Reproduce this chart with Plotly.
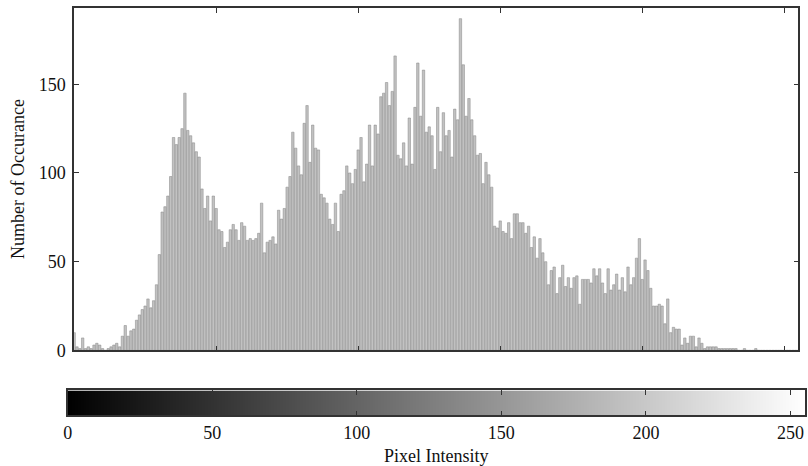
import plotly.graph_objects as go

# ---- data ----
intensity = list(range(256))
counts = [
    10, 2, 1, 7, 1, 2, 1, 3, 4, 3,
    1, 0, 1, 2, 3, 4, 2, 8, 14, 8,
    11, 12, 17, 20, 23, 25, 29, 24, 28, 37,
    54, 78, 81, 87, 98, 120, 116, 120, 125, 145,
    124, 121, 117, 112, 109, 91, 80, 87, 73, 87,
    80, 68, 67, 58, 61, 68, 71, 68, 62, 72,
    70, 62, 63, 62, 63, 66, 83, 55, 61, 62,
    64, 60, 79, 74, 80, 92, 98, 123, 114, 104,
    99, 128, 138, 106, 127, 114, 113, 88, 86, 83,
    74, 71, 83, 67, 88, 90, 104, 100, 94, 102,
    113, 120, 95, 105, 127, 104, 127, 122, 143, 145,
    151, 138, 146, 166, 110, 108, 117, 104, 131, 105,
    137, 162, 132, 158, 123, 126, 121, 102, 137, 112,
    134, 121, 124, 109, 136, 130, 187, 161, 132, 142,
    130, 121, 110, 111, 94, 106, 99, 92, 70, 69,
    73, 67, 66, 72, 63, 77, 77, 72, 72, 66,
    70, 58, 64, 52, 63, 55, 50, 37, 45, 47,
    32, 41, 48, 36, 41, 35, 41, 42, 26, 40,
    40, 40, 38, 46, 42, 46, 38, 32, 46, 34,
    37, 43, 34, 41, 33, 47, 37, 41, 52, 63,
    40, 51, 45, 35, 25, 25, 26, 25, 15, 29,
    10, 13, 12, 12, 3, 7, 4, 8, 8, 2,
    7, 4, 1, 2, 2, 2, 2, 1, 1, 1,
    1, 1, 1, 1, 0, 0, 1, 0, 0, 0,
    1, 0, 0, 0, 0, 0, 0, 0, 0, 0,
    0, 0, 0, 0, 0, 0,
]
hist_ticks = [50, 100, 150, 200, 250]
count_ticks = [0, 50, 100, 150]
bar_ticks = [0, 50, 100, 150, 200, 250]
y_title = "Number of Occurance"
x_title = "Pixel Intensity"

SY = 0.978   # observed vertical shrink of the photographed page
OX, SX = 3.3, 0.996
W, H = 808, 477
FONT = "Liberation Serif"
AX = "#333333"

fig = go.Figure()
fig.add_trace(go.Bar(
    x=intensity, y=counts, width=0.85,
    marker=dict(color="#c2c2c2", line=dict(color="#858585", width=0.5)),
    xaxis="x", yaxis="y", showlegend=False, hoverinfo="x+y",
))
fig.add_trace(go.Heatmap(
    x=intensity, y=[0], z=[intensity],
    colorscale=[[0, "#000000"], [1, "#ffffff"]],
    showscale=False, xaxis="x2", yaxis="y2", hoverinfo="x",
))

def px_x(p):
    return min(1.0, max(0.0, (p - OX) / SX / W))

def px_y(p):
    return min(1.0, max(0.0, 1 - (p / SY) / H))

common = dict(showline=True, linecolor=AX, linewidth=1.5, mirror="ticks",
              ticks="inside", tickcolor=AX, ticklen=5, tickwidth=1,
              showgrid=False, zeroline=False,
              tickfont=dict(family=FONT, size=18, color="#111"))

fig.update_layout(
    width=W, height=H, autosize=False,
    margin=dict(l=0, r=0, t=0, b=0, pad=0),
    paper_bgcolor="white", plot_bgcolor="white",
    font=dict(family=FONT, size=18, color="#111"),
    xaxis=dict(domain=[px_x(73.5), px_x(798.5)], range=[0, 255],
               tickvals=hist_ticks, showticklabels=False, anchor="y", **common),
    yaxis=dict(domain=[px_y(350), px_y(8)], range=[0, 193],
               tickvals=count_ticks, anchor="x", ticklabelstandoff=3, **common),
    xaxis2=dict(domain=[px_x(67), px_x(805)], range=[0, 255],
                tickvals=bar_ticks, anchor="y2", **common),
    yaxis2=dict(domain=[px_y(415), px_y(390)], range=[-0.5, 0.5],
                showticklabels=False, anchor="x2",
                showline=True, linecolor=AX, linewidth=1.5, mirror=True,
                ticks="", showgrid=False, zeroline=False),
    annotations=[
        dict(text=y_title, x=px_x(18), y=px_y(179), xref="paper", yref="paper",
             textangle=-90, showarrow=False, xanchor="center", yanchor="middle",
             font=dict(family=FONT, size=18, color="#111")),
        dict(text=x_title, x=px_x(436), y=px_y(456), xref="paper", yref="paper",
             showarrow=False, xanchor="center", yanchor="middle",
             font=dict(family=FONT, size=18, color="#111")),
    ],
)

fig.write_html(
    "out.html",
    config={"responsive": False, "displayModeBar": False},
    post_script="document.body.style.margin='0';document.body.style.overflow='hidden';",
)
